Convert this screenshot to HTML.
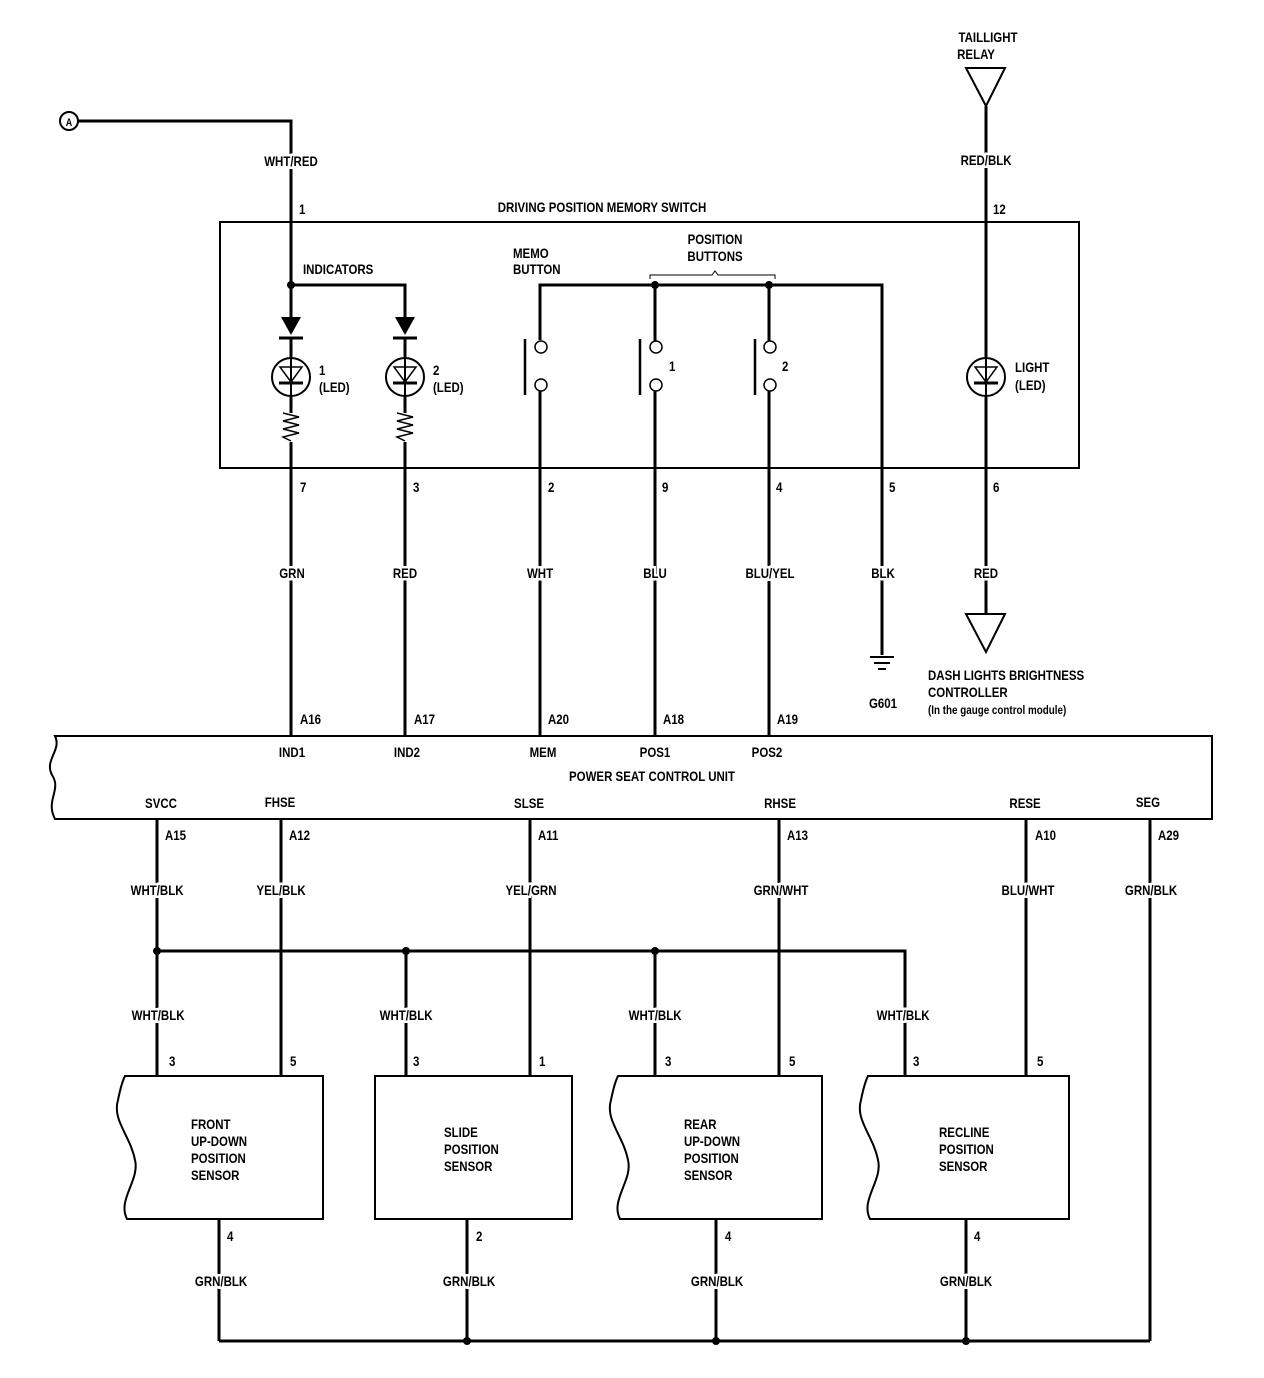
<!DOCTYPE html>
<html><head><meta charset="utf-8"><style>
html,body{margin:0;padding:0;background:#fff}
svg{display:block}
text{font-family:"Liberation Sans",sans-serif;font-weight:bold;font-size:14px;fill:#000;transform-box:fill-box;transform-origin:left center;transform:scaleX(0.82)}
.l{text-anchor:middle;stroke:#fff;stroke-width:5px;paint-order:stroke;transform-origin:center}
.c{text-anchor:middle;transform-origin:center}
</style></head><body>
<svg width="1264" height="1378" viewBox="0 0 1264 1378" xmlns="http://www.w3.org/2000/svg">
<g stroke="#000" stroke-width="3" fill="none">
<circle cx="69" cy="121" r="9" stroke-width="2"/>
<path d="M78 121H291V317"/>
<rect x="220" y="222" width="859" height="246" stroke-width="2"/>
<path d="M291 285H405V317"/>
<path d="M291 337V357M291 397V413M291 442V736"/>
<path d="M405 337V357M405 397V413M405 442V736"/>
<path d="M283 413l16 4-16 4 16 4-16 4 16 4-16 4 8 4" stroke-width="1.5"/>
<path d="M397 413l16 4-16 4 16 4-16 4 16 4-16 4 8 4" stroke-width="1.5"/>
<circle cx="291" cy="377" r="19" stroke-width="2"/>
<circle cx="405" cy="377" r="19" stroke-width="2"/>
<path d="M291 357V397M405 357V397M986 357V397" stroke-width="2"/>
<path d="M280 367h22l-11 15zM394 367h22l-11 15zM975 367h22l-11 15z" stroke-width="1.5"/>
<path d="M279 383h24M393 383h24M974 383h24" stroke-width="3"/>
<path d="M279 338h24M393 338h24" stroke-width="3"/>
<path d="M540 340V285H882V655"/>
<path d="M655 285V341M769 285V341"/>
<path d="M540 391V736M655 391V736M769 391V736"/>
<circle cx="541" cy="347" r="6" stroke-width="1.5"/>
<circle cx="541" cy="385" r="6" stroke-width="1.5"/>
<circle cx="656" cy="347" r="6" stroke-width="1.5"/>
<circle cx="656" cy="385" r="6" stroke-width="1.5"/>
<circle cx="770" cy="347" r="6" stroke-width="1.5"/>
<circle cx="770" cy="385" r="6" stroke-width="1.5"/>
<path d="M525 339V395M640 339V395M755 339V395" stroke-width="2.5"/>
<path d="M650 279v-4h62l3-4 3 4h57v4" stroke-width="1"/>
<path d="M870 657h24M874 663h16M878 669h8" stroke-width="2"/>
<path d="M966 68h39l-19 38z" stroke-width="2"/>
<path d="M986 106V357M986 397V614"/>
<circle cx="986" cy="377" r="19" stroke-width="2"/>
<path d="M966 614h39l-19 38z" stroke-width="2"/>
<path d="M55 736H1212V819H55C45 800 62 790 52 775C44 760 62 750 55 736Z" stroke-width="2"/>
<path d="M157 819V1076M281 819V1076M530 819V1076M779 819V1076M1026 819V1076M1150 819V1341"/>
<path d="M157 951H905V1076M406 951V1076M655 951V1076"/>
<path d="M125 1076H323V1219H127C117 1200 140 1180 135 1160C130 1135 112 1120 118 1100C120 1090 122 1082 125 1076Z" stroke-width="2"/>
<rect x="375" y="1076" width="197" height="143" stroke-width="2"/>
<path d="M618 1076H822V1219H620C610 1200 633 1180 628 1160C623 1135 605 1120 611 1100C613 1090 615 1082 618 1076Z" stroke-width="2"/>
<path d="M868 1076H1069V1219H870C860 1200 883 1180 878 1160C873 1135 855 1120 861 1100C863 1090 865 1082 868 1076Z" stroke-width="2"/>
<path d="M219 1219V1341M467 1219V1341M716 1219V1341M966 1219V1341M219 1341H1150"/>
</g>
<g fill="#000">
<circle cx="291" cy="285" r="4"/><circle cx="655" cy="285" r="4"/><circle cx="769" cy="285" r="4"/>
<circle cx="157" cy="951" r="4"/><circle cx="406" cy="951" r="4"/><circle cx="655" cy="951" r="4"/>
<circle cx="467" cy="1341" r="4"/><circle cx="716" cy="1341" r="4"/><circle cx="966" cy="1341" r="4"/>
<path d="M281 317h20l-10 18zM395 317h20l-10 18z"/>
</g>
<text x="69" y="126" class="c" style="font-size:11px">A</text>
<text x="988" y="42" class="c">TAILLIGHT</text>
<text x="976" y="59" class="c">RELAY</text>
<text x="291" y="166" class="l">WHT/RED</text>
<text x="986" y="165" class="l">RED/BLK</text>
<text x="299" y="214">1</text>
<text x="993" y="214">12</text>
<text x="602" y="212" class="c">DRIVING POSITION MEMORY SWITCH</text>
<text x="303" y="274">INDICATORS</text>
<text x="513" y="258">MEMO</text>
<text x="513" y="274">BUTTON</text>
<text x="715" y="244" class="c">POSITION</text>
<text x="715" y="261" class="c">BUTTONS</text>
<text x="319" y="375">1</text><text x="319" y="392">(LED)</text>
<text x="433" y="375">2</text><text x="433" y="392">(LED)</text>
<text x="669" y="371">1</text><text x="782" y="371">2</text>
<text x="1015" y="372">LIGHT</text><text x="1015" y="390">(LED)</text>
<text x="300" y="492">7</text><text x="413" y="492">3</text><text x="548" y="492">2</text><text x="662" y="492">9</text><text x="776" y="492">4</text><text x="889" y="492">5</text><text x="993" y="492">6</text>
<text x="292" y="578" class="l">GRN</text><text x="405" y="578" class="l">RED</text><text x="540" y="578" class="l">WHT</text><text x="655" y="578" class="l">BLU</text><text x="770" y="578" class="l">BLU/YEL</text><text x="883" y="578" class="l">BLK</text><text x="986" y="578" class="l">RED</text>
<text x="883" y="708" class="c">G601</text>
<text x="928" y="680">DASH LIGHTS BRIGHTNESS</text>
<text x="928" y="697">CONTROLLER</text>
<text x="928" y="714" style="font-size:12px">(In the gauge control module)</text>
<text x="300" y="724">A16</text><text x="414" y="724">A17</text><text x="548" y="724">A20</text><text x="663" y="724">A18</text><text x="777" y="724">A19</text>
<text x="292" y="757" class="c">IND1</text><text x="407" y="757" class="c">IND2</text><text x="543" y="757" class="c">MEM</text><text x="655" y="757" class="c">POS1</text><text x="767" y="757" class="c">POS2</text>
<text x="652" y="781" class="c">POWER SEAT CONTROL UNIT</text>
<text x="161" y="808" class="c">SVCC</text><text x="280" y="807" class="c">FHSE</text><text x="529" y="808" class="c">SLSE</text><text x="780" y="808" class="c">RHSE</text><text x="1025" y="808" class="c">RESE</text><text x="1148" y="807" class="c">SEG</text>
<text x="165" y="840">A15</text><text x="289" y="840">A12</text><text x="538" y="840">A11</text><text x="787" y="840">A13</text><text x="1035" y="840">A10</text><text x="1158" y="840">A29</text>
<text x="157" y="895" class="l">WHT/BLK</text><text x="281" y="895" class="l">YEL/BLK</text><text x="531" y="895" class="l">YEL/GRN</text><text x="781" y="895" class="l">GRN/WHT</text><text x="1028" y="895" class="l">BLU/WHT</text><text x="1151" y="895" class="l">GRN/BLK</text>
<text x="158" y="1020" class="l">WHT/BLK</text><text x="406" y="1020" class="l">WHT/BLK</text><text x="655" y="1020" class="l">WHT/BLK</text><text x="903" y="1020" class="l">WHT/BLK</text>
<text x="169" y="1066">3</text><text x="290" y="1066">5</text><text x="413" y="1066">3</text><text x="539" y="1066">1</text><text x="665" y="1066">3</text><text x="789" y="1066">5</text><text x="913" y="1066">3</text><text x="1037" y="1066">5</text>
<text x="191" y="1129">FRONT</text><text x="191" y="1146">UP-DOWN</text><text x="191" y="1163">POSITION</text><text x="191" y="1180">SENSOR</text>
<text x="444" y="1137">SLIDE</text><text x="444" y="1154">POSITION</text><text x="444" y="1171">SENSOR</text>
<text x="684" y="1129">REAR</text><text x="684" y="1146">UP-DOWN</text><text x="684" y="1163">POSITION</text><text x="684" y="1180">SENSOR</text>
<text x="939" y="1137">RECLINE</text><text x="939" y="1154">POSITION</text><text x="939" y="1171">SENSOR</text>
<text x="227" y="1241">4</text><text x="476" y="1241">2</text><text x="725" y="1241">4</text><text x="974" y="1241">4</text>
<text x="221" y="1286" class="l">GRN/BLK</text><text x="469" y="1286" class="l">GRN/BLK</text><text x="717" y="1286" class="l">GRN/BLK</text><text x="966" y="1286" class="l">GRN/BLK</text>
</svg>
</body></html>
